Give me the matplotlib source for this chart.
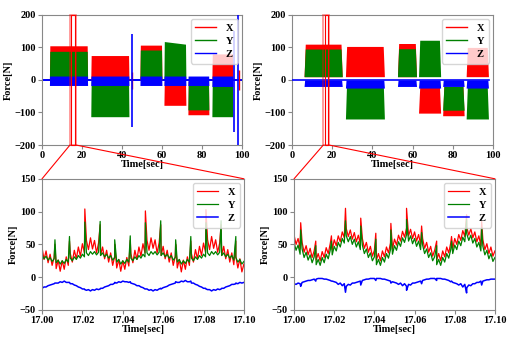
import numpy as np
import matplotlib.pyplot as plt
from matplotlib.patches import Rectangle, ConnectionPatch

plt.rcParams['font.family'] = ['Liberation Serif', 'DejaVu Serif']
plt.rcParams['font.weight'] = 'bold'
plt.rcParams['axes.labelweight'] = 'bold'
plt.rcParams['font.size'] = 7.5

# ---- top panels: active blocks, force bands per axis (sec, N) ----
tl_start = [3.7, 24.4, 49.0, 61.0, 73.0, 85.0]
tl_end = [22.8, 43.5, 60.0, 72.0, 83.5, 95.5]
tl_x_lo = [0, 0, 0, -78, -107, 0]
tl_x_hi0 = [105, 75, 107, -5, -5, 80]
tl_x_hi1 = [105, 75, 107, -5, -5, 80]
tl_y_lo = [3, -113, 3, 3, -92, -113]
tl_y_hi0 = [88, -3, 92, 118, -3, -3]
tl_y_hi1 = [88, -3, 92, 110, -3, -3]
tl_z_lo = [-17, -17, -17, -17, -17, -20]
tl_z_hi = [12, 12, 12, 12, 12, 12]
tl_z_spike_t = [45.2, 96.3, 98.0]
tl_z_spike_lo = [-145, -160, -200]
tl_z_spike_hi = [140, 150, 200]
tl_x_spike_t = [44.8, 98.6]
tl_x_spike_lo = [-28, -30]
tl_x_spike_hi = [25, 32]

tr_start = [6.0, 26.6, 52.5, 63.0, 75.0, 86.7]
tr_end = [25.0, 46.0, 62.0, 74.0, 85.7, 97.8]
tr_x_lo = [10, 10, 10, -102, -110, 10]
tr_x_hi = [110, 103, 112, -20, -20, 100]
tr_y_lo = [10, -120, 10, 10, -93, -120]
tr_y_hi = [95, -5, 96, 122, -20, -20]
tr_z_lo = [-20, -25, -20, -25, -20, -25]
tr_z_hi = [0, 0, 0, 0, 0, 0]

# ---- bottom panels: zoom 17.00-17.10 s, one sample per ms ----
bl_x = [45, 27, 40, 22, 35, 18, 30, 13, 26, 9, 25, 12, 31, 18, 36, 23, 41, 28, 46, 32,
        51, 37, 56, 42, 60, 43, 56, 37, 52, 33, 46, 28, 41, 23, 37, 18, 32, 14, 27, 9,
        25, 12, 30, 17, 36, 22, 41, 27, 46, 32, 51, 37, 56, 41, 60, 44, 57, 37, 52, 33,
        47, 28, 41, 23, 37, 18, 32, 14, 27, 8, 26, 12, 31, 18, 36, 23, 42, 28, 47, 33,
        52, 38, 57, 42, 62, 44, 57, 38, 52, 33, 47, 28, 42, 23, 37, 19, 32, 14, 28, 8, 20]
bl_y = [34, 28, 32, 26, 30, 24, 28, 22, 26, 20, 25, 21, 27, 23, 29, 25, 31, 27, 33, 29,
        35, 31, 37, 33, 39, 35, 39, 34, 38, 33, 37, 31, 35, 29, 33, 26, 30, 23, 27, 20,
        25, 21, 27, 23, 29, 25, 31, 27, 33, 29, 35, 31, 37, 33, 39, 35, 39, 34, 38, 33,
        37, 31, 35, 29, 33, 26, 30, 23, 27, 20, 25, 21, 27, 23, 29, 25, 31, 27, 33, 29,
        35, 31, 37, 33, 39, 35, 39, 34, 38, 33, 37, 31, 35, 29, 33, 26, 30, 23, 27, 20, 24]
bl_z = [-17, -15, -15, -13, -12, -11, -10, -9, -9, -7, -8, -6, -8, -8, -10, -10, -12, -13, -15, -16,
        -18, -18, -20, -19, -21, -19, -20, -18, -19, -17, -17, -15, -14, -13, -11, -11, -9, -9, -7, -8,
        -6, -7, -7, -8, -9, -10, -11, -13, -13, -15, -16, -18, -18, -20, -19, -21, -19, -20, -18, -18,
        -16, -15, -14, -12, -11, -10, -9, -8, -8, -6, -7, -5, -7, -7, -9, -9, -11, -12, -14, -15,
        -17, -17, -19, -19, -21, -19, -20, -18, -19, -17, -17, -15, -14, -13, -11, -11, -9, -10, -8, -9, -8]
bl_spike_t = [6.4, 13.6, 21.2, 28.8, 36.0, 43.7, 51.2, 58.8, 66.2, 73.7, 81.2, 88.7, 96.0]
bl_spike_x = [50, 55, 104, 80, 50, 56, 101, 80, 50, 55, 103, 80, 55]
bl_spike_y = [57, 62, 84, 85, 57, 63, 83, 86, 57, 62, 83, 86, 62]
bl_spike_z = [-9, -8, -19, -18, -8, -7, -18, -17, -7, -6, -18, -18, -10]

br_x = [64, 50, 59, 44, 53, 38, 48, 34, 44, 30, 40, 26, 36, 25, 39, 30, 45, 36, 51, 42,
        57, 48, 63, 54, 69, 60, 74, 62, 72, 58, 68, 54, 64, 50, 59, 44, 53, 38, 47, 32,
        41, 26, 36, 25, 40, 31, 46, 37, 52, 43, 58, 49, 64, 55, 70, 61, 75, 63, 73, 59,
        69, 55, 65, 50, 59, 44, 53, 38, 47, 32, 41, 26, 36, 25, 40, 31, 46, 37, 52, 44,
        59, 50, 65, 56, 71, 62, 76, 64, 74, 60, 69, 54, 63, 48, 57, 42, 51, 36, 46, 32, 40]
br_y = [53, 41, 49, 35, 43, 30, 38, 26, 34, 22, 31, 19, 27, 18, 30, 22, 35, 28, 41, 34,
        47, 40, 53, 46, 59, 52, 63, 54, 62, 50, 58, 46, 54, 42, 49, 36, 43, 30, 37, 25,
        31, 19, 27, 18, 30, 23, 36, 29, 42, 35, 48, 41, 54, 47, 60, 53, 65, 55, 63, 51,
        59, 47, 55, 42, 49, 36, 43, 30, 37, 25, 31, 19, 27, 18, 30, 23, 36, 29, 42, 36,
        49, 42, 55, 48, 61, 54, 66, 56, 64, 52, 59, 46, 53, 40, 47, 34, 41, 28, 36, 24, 30]
br_z = [-10, -11, -9, -10, -8, -7, -6, -5, -5, -4, -3, -3, -2, -2, -2, -3, -3, -4, -5, -6,
        -7, -8, -11, -9, -13, -10, -14, -11, -12, -9, -9, -8, -7, -6, -5, -4, -3, -3, -2, -2,
        -2, -2, -2, -2, -3, -3, -4, -5, -6, -7, -8, -9, -11, -9, -13, -10, -14, -11, -12, -9,
        -9, -8, -7, -6, -5, -4, -3, -3, -2, -2, -2, -2, -2, -2, -3, -3, -4, -5, -7, -8,
        -9, -10, -12, -10, -15, -11, -16, -12, -13, -10, -10, -8, -8, -6, -6, -5, -4, -4, -3, -3, -3]
br_spike_t = [3.3, 10.8, 18.6, 25.6, 33.2, 40.7, 48.2, 56.0, 63.5, 71.0, 78.4, 85.9, 93.4]
br_spike_x = [83, 55, 63, 105, 90, 67, 82, 105, 78, 55, 62, 95, 85]
br_spike_y = [72, 48, 55, 86, 78, 58, 72, 88, 68, 48, 55, 88, 75]
br_spike_z = [-14, -6, -6, -23, -12, -5, -9, -20, -10, -5, -6, -24, -12]

t_ms = np.arange(len(bl_x))


def band(ax, t0, t1, lo, hi0, hi1, color, ramp):
    ax.fill_between([t0, t0 + ramp, t1 - ramp, t1],
                    [lo, lo, lo, lo],
                    [lo, hi0, hi1, lo],
                    color=color, lw=0, zorder=2)


def with_spikes(vals, sp_t, sp_v):
    t = np.concatenate([t_ms, sp_t])
    v = np.concatenate([vals, sp_v])
    order = np.argsort(t)
    return 17.0 + t[order] / 1000.0, v[order]


def style(ax):
    for s in ax.spines.values():
        s.set_color('#888888')
    ax.tick_params(length=3, width=0.8, color='#888888', pad=1.5, labelsize=7.5)
    for lab in ax.get_xticklabels() + ax.get_yticklabels():
        lab.set_fontweight('bold')
    ax.set_ylabel('Force[N]', labelpad=1, fontweight='bold', fontsize=7.5)
    ax.set_xlabel('Time[sec]', labelpad=0, fontweight='bold', fontsize=7.5)


def legend(ax):
    ax.legend(loc='upper right', handlelength=2.0, handletextpad=0.9,
              borderpad=0.45, labelspacing=0.35, borderaxespad=0.4,
              prop={'weight': 'bold', 'size': 7.5})


fig = plt.figure(figsize=(5.15, 3.38), dpi=100)
ax_tl = fig.add_axes([0.0816, 0.571, 0.388, 0.385])
ax_tr = fig.add_axes([0.567, 0.571, 0.390, 0.385])
ax_bl = fig.add_axes([0.0816, 0.083, 0.392, 0.388])
ax_br = fig.add_axes([0.571, 0.083, 0.390, 0.388])

# top left
ax_tl.fill_between([0, 100], [-4, -4], [4, 4], color='b', lw=0, zorder=2)
for i in range(len(tl_start)):
    band(ax_tl, tl_start[i], tl_end[i], tl_x_lo[i], tl_x_hi0[i], tl_x_hi1[i], 'r', 0.2)
for i in range(len(tl_start)):
    band(ax_tl, tl_start[i], tl_end[i], tl_y_lo[i], tl_y_hi0[i], tl_y_hi1[i], 'g', 0.2)
ax_tl.vlines(tl_x_spike_t, tl_x_spike_lo, tl_x_spike_hi, color='r', lw=1, zorder=2)
for i in range(len(tl_start)):
    band(ax_tl, tl_start[i], tl_end[i], tl_z_lo[i], tl_z_hi[i], tl_z_hi[i], 'b', 0.1)
ax_tl.vlines(tl_z_spike_t, tl_z_spike_lo, tl_z_spike_hi, color='b', lw=1.2, zorder=3)

# top right
for i in range(len(tr_start)):
    band(ax_tr, tr_start[i], tr_end[i], tr_x_lo[i], tr_x_hi[i], tr_x_hi[i], 'r', 0.6)
for i in range(len(tr_start)):
    band(ax_tr, tr_start[i], tr_end[i], tr_y_lo[i], tr_y_hi[i], tr_y_hi[i], 'g', 0.6)
for i in range(len(tr_start)):
    band(ax_tr, tr_start[i], tr_end[i], tr_z_lo[i], tr_z_hi[i], tr_z_hi[i], 'b', 0.3)
ax_tr.plot([0, 98], [0, 0], color='b', lw=1.2, zorder=3)

for ax in (ax_tl, ax_tr):
    ax.plot([], [], color='r', lw=1, label='X')
    ax.plot([], [], color='g', lw=1, label='Y')
    ax.plot([], [], color='b', lw=1, label='Z')
    ax.set_xlim(0, 100)
    ax.set_ylim(-200, 200)
    ax.set_xticks([0, 20, 40, 60, 80, 100])
    ax.set_yticks([-200, -100, 0, 100, 200])
    style(ax)
    legend(ax)

# zoom boxes
for ax, outer, inner in ((ax_tl, (14.0, 17.0), (14.6, 16.4)),
                         (ax_tr, (15.6, 18.4), (16.3, 17.8))):
    ax.add_patch(Rectangle((outer[0], -200), outer[1] - outer[0], 400, fill=False,
                           ec='r', lw=1.2, alpha=0.45, zorder=5, clip_on=False))
    ax.add_patch(Rectangle((inner[0], -200), inner[1] - inner[0], 400, fill=False,
                           ec='r', lw=0.8, zorder=5, clip_on=False))

# bottom panels
for ax, xs, ys, zs, st, sx, sy, sz in (
        (ax_bl, bl_x, bl_y, bl_z, bl_spike_t, bl_spike_x, bl_spike_y, bl_spike_z),
        (ax_br, br_x, br_y, br_z, br_spike_t, br_spike_x, br_spike_y, br_spike_z)):
    tx, vx = with_spikes(xs, st, sx)
    ty, vy = with_spikes(ys, st, sy)
    tz, vz = with_spikes(zs, st, sz)
    ax.plot(tx, vx, color='r', lw=0.9, label='X')
    ax.plot(ty, vy, color='g', lw=0.9, label='Y')
    ax.plot(tz, vz, color='b', lw=1.1, label='Z')
    ax.set_xlim(17.0, 17.1)
    ax.set_ylim(-50, 150)
    ax.set_xticks([17.00, 17.02, 17.04, 17.06, 17.08, 17.10])
    ax.set_xticklabels(['17.00', '17.02', '17.04', '17.06', '17.08', '17.10'])
    ax.set_yticks([-50, 0, 50, 100, 150])
    style(ax)
    legend(ax)

# connector lines from zoom boxes to bottom axes
for top, bot, x0, x1 in ((ax_tl, ax_bl, 14.0, 17.0), (ax_tr, ax_br, 15.6, 18.4)):
    for xa, xb in ((x0, 17.0), (x1, 17.1)):
        con = ConnectionPatch(xyA=(xa, -200), coordsA=top.transData,
                              xyB=(xb, 150), coordsB=bot.transData,
                              color='r', lw=0.8)
        fig.add_artist(con)

fig.savefig('out.png', dpi=100)
